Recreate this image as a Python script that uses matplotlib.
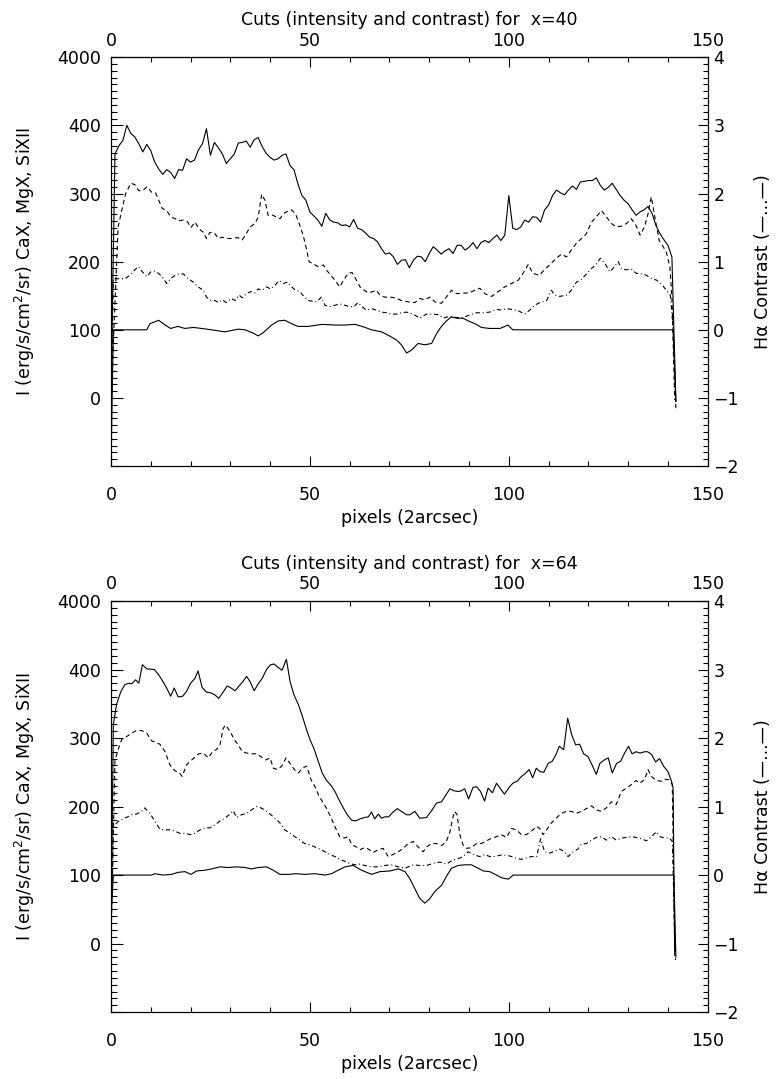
import matplotlib
matplotlib.use('Agg')
import matplotlib.pyplot as plt
import numpy as np
from matplotlib.ticker import MultipleLocator, FixedLocator, FixedFormatter

plt.rcParams['font.family'] = ['DejaVu Sans']
plt.rcParams['lines.scale_dashes'] = False

# ---- cut at x=40 ----
# CaX, one value per pixel 0..142
ca40_y = [0, 358, 370, 378, 400, 388, 383, 373, 361, 372, 363, 346, 336, 328, 335, 331, 322, 335, 334, 351,
          346, 349, 364, 373, 395, 356, 375, 367, 358, 344, 351, 358, 374, 375, 377, 368, 379, 382, 369, 359,
          353, 349, 351, 356, 358, 341, 335, 314, 297, 290, 273, 267, 261, 252, 271, 261, 258, 257, 253, 254,
          251, 262, 249, 247, 242, 236, 234, 229, 219, 211, 213, 207, 196, 202, 203, 191, 202, 208, 207, 200,
          212, 222, 217, 211, 216, 219, 212, 224, 224, 217, 221, 228, 219, 228, 231, 228, 234, 239, 231, 239,
          297, 249, 247, 251, 261, 258, 266, 265, 258, 276, 283, 297, 305, 301, 298, 305, 311, 306, 317, 318,
          319, 319, 323, 312, 305, 309, 315, 306, 297, 290, 285, 276, 268, 273, 276, 281, 271, 253, 241, 232,
          224, 207, -5]
ca40_x = list(range(len(ca40_y)))

mg40 = [(0, 0), (1.8, 251), (2.7, 275), (3.7, 300), (5, 315), (6, 313), (7, 304), (8.1, 305), (9.1, 310),
        (10.2, 302), (11.2, 301), (12, 290), (12.9, 278), (14, 275), (15, 266), (16.1, 263), (17, 260),
        (18.2, 261), (19.3, 258), (20.1, 250), (21.1, 258), (22.2, 248), (23.2, 243), (24, 234), (24.9, 243),
        (26, 242), (27, 234), (28, 236), (29, 234), (30.2, 234), (31.2, 235), (32, 235), (33, 232), (34, 241),
        (35, 251), (36.2, 256), (37, 265), (37.9, 299), (38.7, 290), (39.5, 268), (40.4, 269), (41.4, 266),
        (42.5, 263), (43.3, 270), (44.4, 274), (45.4, 276), (46.4, 270), (47.3, 256), (48.3, 239), (49.2, 217),
        (49.8, 200), (50.8, 197), (52, 193), (53.4, 195), (54.4, 186), (55.4, 179), (56.4, 172), (57.5, 163),
        (58.5, 173), (59.6, 183), (60.6, 184), (61.5, 175), (62.6, 163), (63.7, 158), (64.7, 154), (65.7, 156),
        (66.7, 158), (67.6, 151), (68.8, 148), (70.1, 148), (71.4, 147), (73, 143), (74.7, 141), (76.4, 140),
        (77.6, 146), (78.9, 144), (80.2, 148), (81.4, 141), (83.1, 139), (84.3, 148), (85.6, 158), (86.9, 153),
        (88.5, 154), (89.8, 154), (91.5, 158), (92.7, 161), (94, 153), (95.7, 149), (97.3, 156), (99, 163),
        (100.7, 168), (102.4, 173), (103.6, 183), (104.9, 196), (106, 183), (107.6, 180), (109, 188),
        (110.7, 198), (111.8, 204), (113.2, 211), (114.5, 207), (115.7, 217), (117, 227), (118.3, 234),
        (119.5, 241), (120.8, 258), (122, 266), (123.3, 275), (124.5, 266), (125.8, 256), (127, 251),
        (128.3, 252), (129.6, 256), (130.8, 263), (132, 253), (133, 239), (134.1, 251), (135, 270), (135.8, 295),
        (136.7, 266), (137.8, 231), (138.8, 222), (139.6, 214), (140.5, 192), (141, 148), (141.7, -3)]

si40 = [(0, 0), (0.6, 175), (1.8, 175), (3.5, 175), (4.8, 180), (6, 188), (6.9, 193), (7.9, 185), (9, 178),
        (10, 185), (11, 186), (11.9, 183), (12.7, 179), (14, 168), (15, 175), (16.1, 180), (17.3, 182),
        (18.2, 182), (19.4, 175), (20.7, 170), (21.9, 163), (23.2, 158), (24, 148), (25.1, 143), (26.1, 143),
        (27, 140), (28, 144), (29, 140), (30.2, 146), (31.2, 143), (32.2, 151), (33, 147), (34, 153),
        (35.1, 156), (36.2, 154), (37, 160), (38, 158), (39.1, 163), (40.1, 160), (41.2, 165), (42.2, 172),
        (43.3, 168), (44.4, 170), (45.4, 163), (46.4, 158), (47.5, 156), (48.6, 148), (49.6, 143), (50.6, 142),
        (51.7, 141), (52.9, 148), (53.8, 136), (55, 134), (56.3, 136), (57.5, 138), (58.8, 136), (60, 134),
        (61.1, 134), (62.1, 140), (63.1, 134), (64.2, 129), (65.5, 131), (66.7, 129), (68, 126), (69.3, 125),
        (70.5, 123), (71.8, 123), (73, 125), (74.3, 126), (76, 123), (77.6, 117), (79.3, 123), (81, 123),
        (82.3, 122), (83.5, 117), (85.2, 120), (86.9, 118), (88.5, 118), (90.2, 122), (91.9, 125), (93.6, 125),
        (95.2, 126), (96.9, 130), (98.2, 129), (99.4, 131), (100.7, 130), (102.4, 128), (104, 123),
        (105.3, 129), (106.5, 136), (107.8, 140), (109.5, 143), (110.7, 158), (111.6, 151), (112.8, 149),
        (114.5, 151), (115.7, 158), (117, 170), (118.3, 174), (119.5, 182), (120.8, 190), (122, 196),
        (123, 205), (124.1, 198), (125.4, 185), (126.6, 193), (127.5, 200), (128.3, 190), (129.6, 188),
        (130.8, 189), (132, 183), (133.3, 182), (134.6, 180), (135.9, 175), (137.1, 173), (138.4, 167),
        (139.6, 158), (140.6, 151), (141.3, 104), (142, -15)]

ha40 = [(0, -2.0), (0.6, 0), (9, 0), (9.8, 0.09), (12, 0.14), (13.6, 0.07), (15, 0.02), (16.8, 0.05),
        (18.6, 0.02), (20.7, 0.035), (22.8, 0.02), (25.3, 0), (28.6, -0.03), (32, 0.01), (33.7, 0),
        (35.8, -0.05), (37, -0.09), (38.3, -0.04), (40.4, 0.07), (42, 0.13), (43.7, 0.14), (45.4, 0.09),
        (47, 0.05), (49.6, 0.05), (53, 0.08), (56.3, 0.07), (58.8, 0.07), (61.3, 0.08), (63.4, 0.045),
        (65.5, 0), (68, -0.03), (69.7, -0.08), (71.8, -0.15), (73, -0.22), (74.3, -0.34), (75.5, -0.30),
        (77.2, -0.20), (78.9, -0.22), (80.6, -0.20), (81.9, -0.05), (83, 0.045), (84.3, 0.13), (85.6, 0.19),
        (86.9, 0.17), (88.5, 0.17), (90.2, 0.12), (91.5, 0.09), (93.1, 0.035), (95.2, 0.02), (97.8, 0.02),
        (99.8, 0.07), (101, 0), (141.3, 0), (142, -1.05)]

# ---- cut at x=64 ----
ca64 = [(0, 0), (0.6, 320), (1.4, 349), (2.5, 368), (3.5, 378), (4.5, 380), (5.2, 379), (6.2, 385), (7, 380),
        (7.9, 407), (9, 401), (10.9, 400), (11.9, 393), (12.9, 384), (14, 373), (15, 361), (15.9, 373),
        (16.9, 360), (18, 361), (19, 368), (20, 380), (21.1, 387), (21.9, 398), (22.9, 374), (24, 367),
        (25.1, 366), (26.1, 363), (27.1, 358), (28.2, 367), (29.2, 376), (30.2, 373), (31.2, 369), (32.2, 376),
        (33.1, 382), (34.1, 390), (35, 382), (36, 369), (37, 379), (38, 387), (39.1, 400), (40.1, 407),
        (41, 408), (42, 403), (43, 399), (44.1, 415), (45, 383), (46, 363), (47.1, 349), (48.1, 332), (49, 315),
        (50, 298), (51, 285), (52.1, 266), (53.1, 249), (54.2, 238), (55.3, 231), (56.3, 222), (57.3, 210),
        (58.4, 198), (59.4, 188), (60.5, 180), (61.5, 179), (62.6, 182), (63.7, 184), (64.7, 185), (65.5, 192),
        (66.3, 182), (67.2, 189), (68, 183), (68.8, 185), (69.8, 185), (70.9, 192), (72, 197), (73, 193),
        (74.3, 188), (75.1, 188), (76.4, 193), (77.6, 183), (79.3, 184), (80.6, 194), (81.8, 205), (83.1, 207),
        (84.2, 217), (85.2, 226), (86.2, 223), (87.3, 222), (88.1, 223), (88.9, 226), (89.9, 211), (91, 228),
        (91.9, 229), (92.9, 222), (93.9, 208), (94.8, 227), (95.9, 220), (96.9, 234), (97.8, 227), (98.9, 218),
        (100.1, 228), (101, 234), (102.1, 237), (103.2, 244), (104.3, 249), (105.1, 254), (106, 242),
        (106.9, 256), (107.8, 251), (108.8, 250), (109.9, 263), (110.9, 266), (111.8, 275), (112.7, 288),
        (113.8, 283), (114.8, 329), (115.8, 305), (116.8, 290), (117.8, 291), (118.8, 277), (119.9, 273),
        (120.9, 261), (122, 247), (122.9, 263), (124, 268), (125, 271), (126, 249), (127.1, 263), (128.1, 266),
        (129.1, 278), (130.1, 288), (131, 277), (132, 280), (133, 278), (134.1, 280), (134.9, 280),
        (135.9, 276), (136.9, 265), (137.9, 270), (138.9, 259), (140, 251), (140.9, 237), (141.3, 227),
        (141.7, -17)]

mg64 = [(0, 0), (1, 267), (1.8, 283), (2.7, 298), (3.9, 302), (5.2, 307), (6.4, 311), (7.7, 311), (9, 307),
        (10.2, 296), (11.5, 293), (12.3, 291), (13.6, 280), (14.8, 261), (16.1, 252), (17.1, 250), (17.9, 244),
        (19, 261), (20.1, 267), (21.1, 272), (22.1, 277), (23.2, 278), (24.5, 271), (25.5, 280), (26.5, 283),
        (27.4, 290), (28.2, 314), (28.8, 319), (29.9, 310), (31.2, 296), (32, 290), (33, 280), (34.1, 278),
        (35.3, 277), (36.6, 277), (37.9, 272), (38.9, 268), (40, 271), (40.8, 256), (41.9, 254), (42.9, 259),
        (44, 271), (45, 263), (46.1, 254), (47.1, 249), (48.1, 256), (49.2, 259), (50.3, 239), (51.3, 229),
        (52.3, 215), (53.4, 205), (54.4, 195), (55.4, 183), (56.5, 168), (57.5, 156), (58.6, 154), (59.6, 156),
        (60.6, 144), (61.7, 141), (62.6, 137), (63.7, 140), (64.7, 138), (65.9, 133), (67.2, 137), (68.4, 139),
        (69.7, 127), (70.9, 130), (72.2, 134), (73.5, 139), (74.7, 146), (76, 149), (77.2, 141), (78.5, 134),
        (79.3, 141), (80.6, 146), (81.8, 146), (83.1, 143), (84.3, 149), (85.2, 163), (85.9, 183), (86.4, 193),
        (87, 188), (87.7, 159), (88.5, 144), (89.4, 139), (90.6, 140), (91.9, 146), (93.1, 146), (94.4, 150),
        (95.7, 154), (96.9, 156), (98.1, 159), (99.4, 155), (100.7, 168), (101.9, 166), (103.2, 159),
        (104.4, 159), (105.7, 164), (107, 171), (107.8, 168), (108.6, 159), (109.5, 166), (110.7, 176),
        (111.9, 183), (113.2, 190), (114.5, 193), (115.7, 193), (117, 190), (118.2, 193), (119.5, 197),
        (120.8, 201), (122, 195), (123.3, 193), (124.5, 198), (125.8, 207), (127, 203), (128.3, 222),
        (129.6, 227), (130.8, 232), (132, 238), (132.9, 234), (134.1, 239), (135, 254), (135.8, 244),
        (137.1, 238), (138.3, 237), (139.2, 240), (140.3, 239), (141.1, 232), (141.7, -7)]

si64 = [(0, 0), (0.6, 171), (1.8, 178), (3.1, 182), (4.2, 185), (5.2, 188), (6.4, 189), (7.7, 193), (8.5, 198),
        (9.8, 190), (11.1, 178), (12.3, 167), (13.6, 166), (14.8, 166), (16.1, 164), (17.3, 161), (18.6, 161),
        (19.9, 159), (21.1, 161), (22.4, 166), (23.6, 169), (24.9, 169), (26.1, 173), (27.4, 179), (28.7, 183),
        (29.9, 189), (30.7, 194), (31.6, 184), (32.8, 188), (34.1, 190), (35.3, 195), (36.6, 200), (37.7, 198),
        (38.7, 195), (40, 189), (41.2, 183), (42.5, 176), (43.7, 166), (45, 161), (46.2, 156), (47.5, 151),
        (48.7, 146), (50, 144), (51.3, 141), (52.5, 138), (53.8, 134), (55, 130), (56.3, 127), (57.5, 123),
        (58.8, 120), (60, 117), (61.3, 115), (62.6, 116), (63.8, 114), (65.5, 112), (67.2, 112), (68.8, 114),
        (70.5, 115), (72.2, 112), (73.9, 110), (76, 115), (77.6, 114), (79.3, 114), (81, 117), (82.7, 119),
        (84.3, 116), (86, 122), (87.3, 124), (88.5, 127), (89.8, 134), (91, 130), (92.7, 127), (94, 130),
        (95.2, 127), (96.5, 127), (97.8, 129), (99.4, 129), (100.7, 127), (102, 124), (103.2, 123),
        (104.4, 125), (105.7, 127), (107, 127), (108, 153), (109, 134), (110.3, 132), (111.6, 135),
        (112.8, 138), (114, 134), (114.9, 127), (116.2, 134), (117.4, 138), (118.2, 145), (119.5, 146),
        (120.8, 151), (122, 155), (123.3, 156), (124.5, 151), (125.8, 156), (127, 151), (128.3, 154),
        (129.6, 155), (130.8, 156), (132, 155), (133.3, 153), (134.6, 150), (135.8, 156), (137.1, 163),
        (138, 156), (139.2, 154), (140.4, 154), (141.1, 149), (141.9, -24)]

ha64 = [(0, -0.6), (0.6, 0), (10.2, 0), (11, 0.02), (13.1, 0), (15.2, 0.01), (16.9, 0.04), (18.6, 0.05),
        (20.1, 0.01), (21.5, 0.06), (23.6, 0.07), (25.3, 0.09), (27.4, 0.12), (29.5, 0.11), (31.6, 0.12),
        (33.7, 0.11), (35.3, 0.09), (37, 0.11), (39.1, 0.12), (40.8, 0.07), (42.5, 0.01), (44.6, 0.01),
        (46.6, 0.02), (48.7, 0.01), (51.3, 0.02), (53.8, 0), (55.4, 0.02), (57.1, 0.07), (58.8, 0.12),
        (60.9, 0.14), (63, 0.07), (65.5, 0.01), (67.6, 0.05), (70.1, 0.06), (72.2, 0.09), (73.9, 0.05),
        (75.1, -0.05), (76.4, -0.2), (77.6, -0.34), (78.9, -0.41), (80.2, -0.34), (81.4, -0.24),
        (83.1, -0.15), (84.3, -0.02), (85.6, 0.10), (87.3, 0.14), (89, 0.15), (90.6, 0.15), (92.3, 0.10),
        (93.6, 0.06), (95.2, 0.05), (96.9, 0), (98.2, -0.04), (99.9, -0.06), (101.1, 0), (141.5, 0),
        (142, -1.2)]

xticks = [0, 50, 100, 150]
left_ticks = [-100, 0, 100, 200, 300, 400, 500]
left_labels = ['', '0', '100', '200', '300', '400', '4000']
right_ticks = [-2, -1, 0, 1, 2, 3, 4]

FS = 12.5
LW = 0.8
DASH = (0, (3.2, 2.4))
DASHDOT = (0, (3.2, 2.0, 0.7, 2.0))


def draw_panel(ax, xcut, ca_x, ca_y, mg, si, ha):
    mg = np.array(mg)
    si = np.array(si)
    ha = np.array(ha)
    ax.plot(ca_x, ca_y, color='k', lw=LW)
    ax.plot(mg[:, 0], mg[:, 1], color='k', lw=LW, ls=DASH)
    ax.plot(si[:, 0], si[:, 1], color='k', lw=LW, ls=DASHDOT)
    ax.set_xlim(0, 150)
    ax.set_ylim(-100, 500)

    ax.xaxis.set_major_locator(FixedLocator(xticks))
    ax.xaxis.set_minor_locator(MultipleLocator(10))
    ax.yaxis.set_major_locator(FixedLocator(left_ticks))
    ax.yaxis.set_major_formatter(FixedFormatter(left_labels))
    ax.yaxis.set_minor_locator(MultipleLocator(10))
    ax.tick_params(axis='x', which='both', direction='in', top=True, labeltop=False, labelsize=FS)
    ax.tick_params(axis='x', which='major', length=7, width=0.8, pad=14)
    ax.tick_params(axis='x', which='minor', length=3.5, width=0.8)
    ax.tick_params(axis='y', which='both', direction='in', right=False, labelsize=FS)
    ax.tick_params(axis='y', which='major', length=8.5, width=0.8, pad=7)
    ax.tick_params(axis='y', which='minor', length=4.5, width=0.8)

    # labels of the top axis sit closer to the frame than the bottom ones
    sec = ax.secondary_xaxis('top')
    sec.set_xticks(xticks)
    sec.tick_params(axis='x', length=0, pad=5.5, labelsize=FS)
    sec.spines['top'].set_linewidth(0.8)

    ax2 = ax.twinx()
    ax2.plot(ha[:, 0], ha[:, 1], color='k', lw=LW)
    ax2.set_ylim(-2, 4)
    ax2.yaxis.set_major_locator(FixedLocator(right_ticks))
    ax2.yaxis.set_minor_locator(MultipleLocator(0.1))
    ax2.tick_params(axis='y', which='both', direction='in', labelsize=FS)
    ax2.tick_params(axis='y', which='major', length=7, width=0.8, pad=4)
    ax2.tick_params(axis='y', which='minor', length=3.5, width=0.8)

    for a in (ax, ax2):
        for s in a.spines.values():
            s.set_linewidth(0.8)

    h = ax.get_position().height * 1079
    ax.text(0.5, 1 + 37 / h, 'Cuts (intensity and contrast) for  x=%d' % xcut,
            transform=ax.transAxes, ha='center', va='center', fontsize=FS)
    ax.text(0.5, -52 / h, 'pixels (2arcsec)', transform=ax.transAxes,
            ha='center', va='center', fontsize=FS)
    ax.text(-86 / 597, 0.5, 'I (erg/s/cm$^2$/sr) CaX, MgX, SiXII', transform=ax.transAxes,
            ha='center', va='center', rotation=90, fontsize=FS)
    ax.text(1 + 55 / 597, 0.5, 'H\u03b1 Contrast (\u2014...\u2014)', transform=ax.transAxes,
            ha='center', va='center', rotation=90, fontsize=FS)


fig = plt.figure(figsize=(7.76, 10.79), dpi=100)
ax_top = fig.add_axes([0.143, 0.568, 0.769, 0.379])
ax_bot = fig.add_axes([0.143, 0.062, 0.769, 0.381])

draw_panel(ax_top, 40, ca40_x, ca40_y, mg40, si40, ha40)
ca64 = np.array(ca64)
draw_panel(ax_bot, 64, ca64[:, 0], ca64[:, 1], mg64, si64, ha64)

fig.savefig('out.png', dpi=100)
